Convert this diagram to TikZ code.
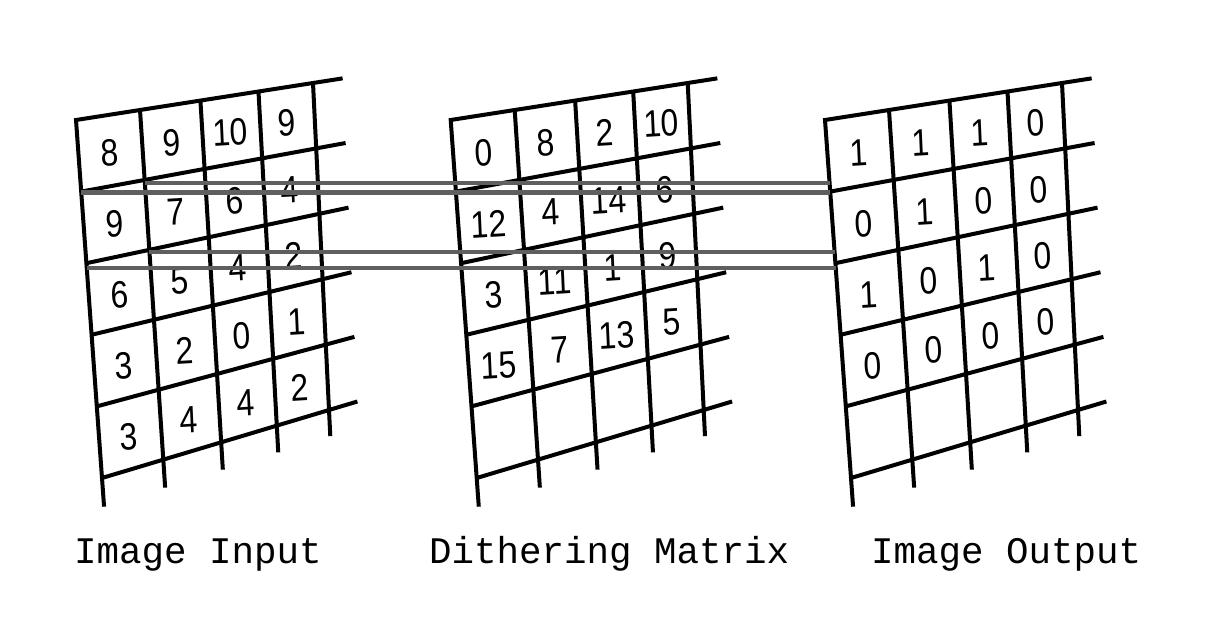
\documentclass[tikz,border=0pt]{standalone}
\usepackage{fontspec}
\newfontfamily\digitfont{Liberation Sans}
\newfontfamily\labelfont{Liberation Mono}
\definecolor{greyline}{RGB}{95,95,95}
% bilinear point of a grid: offset, u, v
\newcommand\gp[3]{({#1+(1-(#3))*(76+237*(#2))+(#3)*(102+227*(#2))},{(1-(#3))*(120-37*(#2))+(#3)*(478-68*(#2))})}
\newcommand\tp[3]{({#1-1+(1-(#3))*(76+237*(#2))+(#3)*(102+227*(#2))},{3+(1-(#3))*(120-37*(#2))+(#3)*(478-68*(#2))})}
\begin{document}
\begin{tikzpicture}[x=1pt,y=-1pt,
  gridline/.style={line width=4pt,black},
  bar/.style={line width=4.3pt,draw=greyline},
  digit/.style={font=\digitfont\fontsize{38}{38}\selectfont,inner sep=0pt,xscale=0.84},
  caption/.style={font=\labelfont\fontsize{37.5}{40}\selectfont,inner sep=0pt,anchor=base}]
\useasboundingbox[fill=white] (0,0) rectangle (1214,636);
% grids
\foreach \o in {0,374.7,749} {
  \draw[gridline] \gp{\o}{1.125}{0} -- \gp{\o}{0}{0} -- \gp{\o}{0}{1.08};
  \foreach \i in {1,...,5}
    \draw[gridline] \gp{\o}{0}{\i/5} -- \gp{\o}{1.125}{\i/5};
  \foreach \u in {0.27,0.525,0.77,1}
    \draw[gridline] \gp{\o}{\u}{0} -- \gp{\o}{\u}{1.08};
}
% digits
\foreach \o/\g/\rows in {0/a/{{8,9,10,9},{9,7,6,4},{6,5,4,2},{3,2,0,1},{3,4,4,2}},
                        374.7/b/{{0,8,2,10},{12,4,14,6},{3,11,1,9},{15,7,13,5}},
                        749/c/{{1,1,1,0},{0,1,0,0},{1,0,1,0},{0,0,0,0}}} {
  \foreach \row [count=\r from 0] in \rows {
    \foreach \val [count=\c from 0] in \row {
      \pgfmathsetmacro\uc{{0.135,0.3975,0.6475,0.885}[\c]}
      \node[digit,rotate=3] (\g-\r-\c) at \tp{\o}{\uc}{(\r+0.5)/5} {\val};
    }
  }
}
% grey connecting lines
\coordinate (a1s) at (144.5,183.3);
\coordinate (a1e) at (829.6,183.3);
\coordinate (b1s) at (81.3,192.5);
\coordinate (b1e) at (830.3,192.5);
\coordinate (a2s) at (149.3,252.3);
\coordinate (a2e) at (834.6,252.3);
\coordinate (b2s) at (86.6,267.7);
\coordinate (b2e) at (835.7,267.7);
\draw[bar] (a1s) -- (a1e);
\draw[bar] (b1s) -- (b1e);
\draw[bar] (a2s) -- (a2e);
\draw[bar] (b2s) -- (b2e);
% captions
\node[caption] (cin) at (197.8,563.3) {Image Input};
\node[caption] (cmat) at (609.2,563.3) {Dithering Matrix};
\node[caption] (cout) at (1006.2,563.3) {Image Output};
\end{tikzpicture}
\end{document}
